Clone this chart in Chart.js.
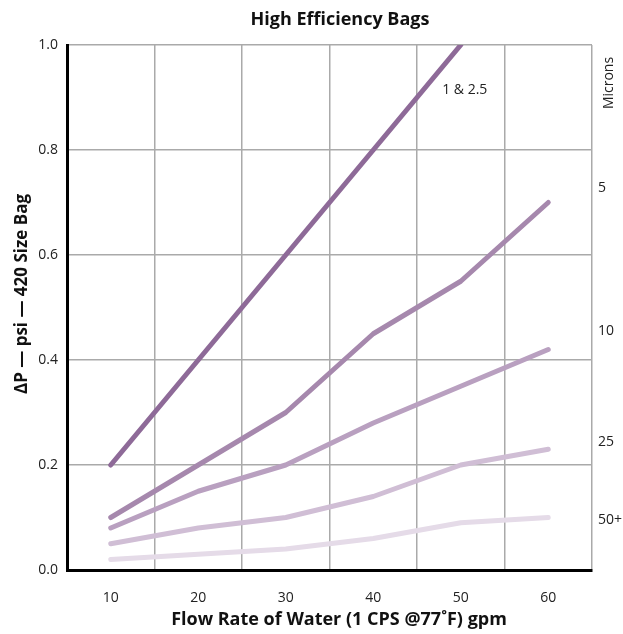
<!DOCTYPE html>
<html>
<head>
<meta charset="utf-8">
<script src="https://cdn.jsdelivr.net/npm/chart.js@4"></script>
<style>
html,body{margin:0;padding:0;background:#fff;}
#wrap{width:623px;height:634px;}
</style>
</head>
<body>
<div id="wrap"><canvas id="c" width="623" height="634"></canvas></div>
<script>
const flowRates = [10, 20, 30, 40, 50, 60];
const micron1_2_5 = [0.2, 0.4, 0.6, 0.8, 1.0];
const micron5 = [0.1, 0.2, 0.3, 0.45, 0.55, 0.7];
const micron10 = [0.08, 0.15, 0.2, 0.28, 0.35, 0.42];
const micron25 = [0.05, 0.08, 0.1, 0.14, 0.2, 0.23];
const micron50 = [0.02, 0.03, 0.04, 0.06, 0.09, 0.1];
const seriesLabels = ['1 & 2.5', '5', '10', '25', '50+'];
const seriesColors = ['#8e6a98', '#a688ad', '#b9a0c0', '#d0bed5', '#e5dbe8'];
const yTickLabels = ['0.0', '0.2', '0.4', '0.6', '0.8', '1.0'];
const xTickLabels = ['10', '20', '30', '40', '50', '60'];
// label anchor values (y in psi) for the micron annotations at right
const rightLabelY = [null, 0.728, 0.455, 0.244, 0.095];

const allSeries = [micron1_2_5, micron5, micron10, micron25, micron50];
const datasets = allSeries.map((vals, i) => ({
  label: seriesLabels[i],
  data: vals.map((v, j) => ({x: flowRates[j], y: v})),
  borderColor: seriesColors[i],
  borderWidth: 5,
  borderCapStyle: 'round',
  borderJoinStyle: 'round',
  pointRadius: 0,
  tension: 0,
  fill: false
}));

const FONT = '"Open Sans", "Liberation Sans", sans-serif';

const textPlugin = {
  id: 'texts',
  afterDraw(chart) {
    const ctx = chart.ctx;
    const xs = chart.scales.x, ys = chart.scales.y;
    const ca = chart.chartArea;
    ctx.save();
    ctx.fillStyle = '#111';
    ctx.textAlign = 'center';
    ctx.textBaseline = 'middle';
    // title
    ctx.font = 'bold 18px ' + FONT;
    ctx.fillText('High Efficiency Bags', 340, 20);
    // x title
    ctx.fillText('Flow Rate of Water (1 CPS @77˚F) gpm', 339, 620);
    // y title
    ctx.font = 'bold 17px ' + FONT;
    ctx.save();
    ctx.translate(22, 294);
    ctx.rotate(-Math.PI / 2);
    ctx.fillText('ΔP — psi — 420 Size Bag', 0, 0);
    ctx.restore();
    // Microns
    ctx.font = '14px ' + FONT;
    ctx.fillStyle = '#222';
    ctx.save();
    ctx.translate(609, 83);
    ctx.rotate(-Math.PI / 2);
    ctx.fillText('Microns', 0, 0);
    ctx.restore();
    // right labels
    ctx.textAlign = 'left';
    for (let i = 1; i < seriesLabels.length; i++) {
      ctx.fillText(seriesLabels[i], 598, ys.getPixelForValue(rightLabelY[i]));
    }
    // 1 & 2.5 label inside plot
    ctx.textAlign = 'center';
    ctx.fillText(seriesLabels[0], xs.getPixelForValue(50) + 4, ys.getPixelForValue(0.915));
    ctx.restore();
  }
};

new Chart(document.getElementById('c'), {
  type: 'line',
  data: { datasets },
  options: {
    responsive: false,
    animation: false,
    devicePixelRatio: 1,
    layout: { padding: { top: 45, right: 31, bottom: 0, left: 0 } },
    plugins: { legend: { display: false }, title: { display: false }, tooltip: { enabled: false } },
    scales: {
      x: {
        type: 'linear',
        min: 5, max: 65,
        afterFit(s) { s.height = 64; },
        border: { color: '#000', width: 3 },
        grid: {
          drawTicks: false,
          lineWidth: 1.5,
          color: c => (c.tick && c.tick.value % 10 === 5 && c.tick.value > 5) ? '#aaaaaa' : 'rgba(0,0,0,0)'
        },
        ticks: {
          stepSize: 5,
          autoSkip: false,
          maxRotation: 0,
          padding: 20,
          color: '#222',
          font: { family: FONT, size: 14 },
          callback: v => { const i = flowRates.indexOf(v); return i >= 0 ? xTickLabels[i] : ''; }
        }
      },
      y: {
        type: 'linear',
        min: 0, max: 1,
        afterFit(s) { s.width = 67; },
        border: { color: '#000', width: 3 },
        grid: {
          drawTicks: false,
          lineWidth: 1.5,
          color: c => (c.tick && c.tick.value > 0.01) ? '#aaaaaa' : 'rgba(0,0,0,0)'
        },
        ticks: {
          stepSize: 0.2,
          padding: 9,
          color: '#222',
          font: { family: FONT, size: 14 },
          callback: v => yTickLabels[Math.round(v * 5)]
        }
      }
    }
  },
  plugins: [textPlugin]
});
</script>
</body>
</html>
